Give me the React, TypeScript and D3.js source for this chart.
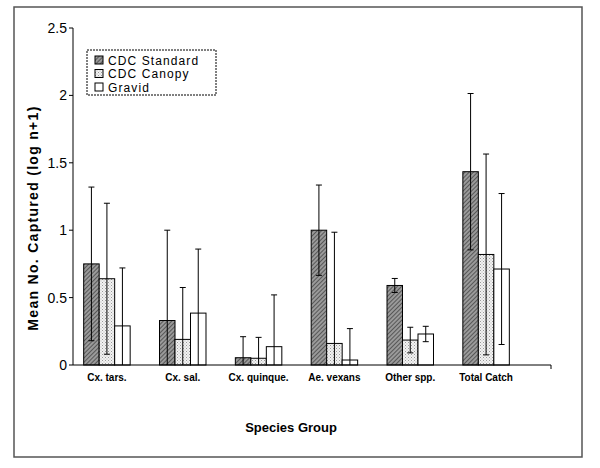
import React from "react";
import * as d3 from "d3";

const categories = ["Cx. tars.", "Cx. sal.", "Cx. quinque.", "Ae. vexans", "Other spp.", "Total Catch"];
const seriesNames = ["CDC Standard", "CDC Canopy", "Gravid"];
const stdMeans = [0.75, 0.33, 0.054, 1.0, 0.59, 1.434];
const stdErr = [0.57, 0.67, 0.156, 0.335, 0.052, 0.58];
const canopyMeans = [0.64, 0.19, 0.05, 0.16, 0.185, 0.82];
const canopyErr = [0.56, 0.385, 0.155, 0.825, 0.095, 0.745];
const gravidMeans = [0.29, 0.385, 0.136, 0.037, 0.23, 0.712];
const gravidErr = [0.43, 0.475, 0.384, 0.233, 0.057, 0.56];
const yTicks = [0, 0.5, 1, 1.5, 2, 2.5];
const yTickLabels = ["0", "0.5", "1", "1.5", "2", "2.5"];

const means = [stdMeans, canopyMeans, gravidMeans];
const errs = [stdErr, canopyErr, gravidErr];
const fills = ["url(#hatchStd)", "url(#dotCanopy)", "#ffffff"];

export default function App() {
  const W = 600, H = 468;
  const y = d3.scaleLinear().domain([0, 2.5]).range([365, 28]);
  const x0 = d3.scaleBand<string>().domain(categories).range([69, 524]).paddingInner(0.387).paddingOuter(0.1935);
  const x1 = d3.scaleBand<string>().domain(seriesNames).range([0, x0.bandwidth()]).padding(0);
  const axisX = 73;
  const axisEnd = 551;
  const font = "Arial, 'Liberation Sans', Helvetica, sans-serif";
  const capW = 3;

  return (
    <svg width={W} height={H} style={{ position: "absolute", left: 0, top: 0, background: "#fff" }}>
      <defs>
        <pattern id="hatchStd" patternUnits="userSpaceOnUse" width="3" height="3" patternTransform="rotate(45)">
          <rect width="3" height="3" fill="#9a9a9a" />
          <line x1="0" y1="0" x2="0" y2="3" stroke="#3a3a3a" strokeWidth="1.4" />
        </pattern>
        <pattern id="dotCanopy" patternUnits="userSpaceOnUse" width="3" height="3">
          <rect width="3" height="3" fill="#f2f2f2" />
          <rect x="0" y="0" width="1" height="1" fill="#9a9a9a" />
          <rect x="1.5" y="1.5" width="1" height="1" fill="#b5b5b5" />
        </pattern>
      </defs>
      <rect x={14} y={7} width={568} height={450} fill="#fff" stroke="#555" strokeWidth={1.5} />

      {/* bars */}
      {categories.map((c, ci) => (
        <g key={c}>
          {seriesNames.map((s, si) => {
            const bx = (x0(c) as number) + (x1(s) as number);
            const bw = x1.bandwidth();
            const v = means[si][ci];
            return (
              <rect key={s} x={bx} y={y(v)} width={bw} height={y(0) - y(v)} fill={fills[si]} stroke="#000" strokeWidth={1} />
            );
          })}
        </g>
      ))}

      {/* error bars */}
      {categories.map((c, ci) => (
        <g key={c + "e"}>
          {seriesNames.map((s, si) => {
            const cx = (x0(c) as number) + (x1(s) as number) + x1.bandwidth() / 2;
            const v = means[si][ci];
            const e = errs[si][ci];
            const hi = v + e;
            const lo = v - e;
            const loClipped = Math.max(0, lo);
            return (
              <g key={s} stroke="#000" strokeWidth={1}>
                <line x1={cx} x2={cx} y1={y(hi)} y2={y(loClipped)} />
                <line x1={cx - capW} x2={cx + capW} y1={y(hi)} y2={y(hi)} />
                {lo > 0 && <line x1={cx - capW} x2={cx + capW} y1={y(lo)} y2={y(lo)} />}
              </g>
            );
          })}
        </g>
      ))}

      {/* y axis */}
      <line x1={axisX} x2={axisX} y1={y(2.5)} y2={y(0)} stroke="#000" strokeWidth={1} />
      {yTicks.map((t, i) => (
        <g key={t}>
          <line x1={axisX - 4} x2={axisX} y1={y(t)} y2={y(t)} stroke="#000" />
          <text x={axisX - 6} y={y(t)} dy="0.35em" textAnchor="end" fontFamily={font} fontSize={14} fill="#000">
            {yTickLabels[i]}
          </text>
        </g>
      ))}
      {/* x axis */}
      <line x1={axisX} x2={axisEnd} y1={y(0)} y2={y(0)} stroke="#000" strokeWidth={1} />
      <line x1={axisEnd} x2={axisEnd} y1={y(0)} y2={y(0) + 4} stroke="#000" />
      {categories.map((c) => (
        <text key={c} x={(x0(c) as number) + x0.bandwidth() / 2} y={381} textAnchor="middle" fontFamily={font} fontSize={10} fontWeight="bold" fill="#000">
          {c}
        </text>
      ))}

      <text x={291} y={432} textAnchor="middle" fontFamily={font} fontSize={13} fontWeight="bold" fill="#000">
        Species Group
      </text>
      <text transform={`translate(38,218) rotate(-90)`} textAnchor="middle" fontFamily={font} fontSize={14} fontWeight="bold" letterSpacing={1.3} fill="#000">
        Mean No. Captured (log n+1)
      </text>

      {/* legend */}
      <rect x={87} y={50} width={129} height={45} fill="#fff" stroke="#000" strokeWidth={1} strokeDasharray="2,1" />
      {seriesNames.map((s, i) => (
        <g key={s} transform={`translate(95,${55.5 + i * 13.5})`}>
          <rect x={0} y={0.5} width={8} height={8} fill={fills[i]} stroke="#000" strokeWidth={1} />
          <text x={13} y={9} fontFamily={font} fontSize={12} letterSpacing={1.1} fill="#000">
            {s}
          </text>
        </g>
      ))}
    </svg>
  );
}
